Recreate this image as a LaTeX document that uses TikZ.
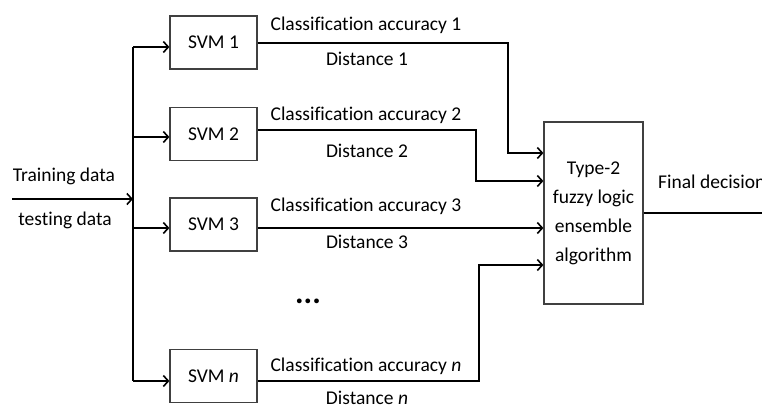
\documentclass[tikz,border=0pt]{standalone}
\usepackage{fontspec}
\setmainfont{Carlito}[Ligatures=NoCommon]
\usetikzlibrary{arrows.meta}

\begin{document}
\begin{tikzpicture}[x=1pt,y=-1pt,
  font=\fontsize{19.5}{29}\selectfont,
  svmbox/.style={draw=black!75,line width=1.2pt,minimum width=87pt,minimum height=53pt,inner sep=0pt},
  wire/.style={line width=2pt,-{Straight Barb[length=5pt,width=11pt,line width=1.6pt]}},
  lbl/.style={inner sep=0pt,anchor=base}]
\useasboundingbox (0,0) rectangle (762,408);
% SVM boxes
\node[svmbox] (svm1) at (213.5,42.5) {SVM 1};
\node[svmbox] (svm2) at (213.5,134) {SVM 2};
\node[svmbox] (svm3) at (213.5,224.5) {SVM 3};
\node[svmbox] (svmn) at (213.5,376) {SVM \textit{n}};
\node[lbl,font=\fontsize{32}{32}\selectfont\bfseries] (dots) at (308,303) {...};
% Ensemble box
\node[svmbox,minimum width=99pt,minimum height=182pt,align=center] (fuzzy) at (593.5,213)
  {Type-2\\fuzzy logic\\ensemble\\algorithm};
% Input and bus
\coordinate (start) at (12,199);
\coordinate (b1) at (133,47);
\coordinate (b2) at (133,137);
\coordinate (b3) at (133,228);
\coordinate (bn) at (133,381);
\draw[wire] (start) -- (start -| b1);
\node[lbl] (train) at (64,181) {Training data};
\node[lbl] (test) at (65,225) {testing data};
\draw[line width=2pt] (b1) -- (bn);
\foreach \i in {1,2,3,n}
  \draw[wire] (b\i) -- (b\i -| svm\i.west);
% Outputs of the SVMs
\draw[wire] (svm1.east |- 0,43) -- (508,43) |- (fuzzy.west |- 0,153);
\draw[wire] (svm2.east |- 0,130) -- (476,130) |- (fuzzy.west |- 0,181);
\draw[wire] (svm3.east |- 0,228) -- (fuzzy.west |- 0,228);
\draw[wire] (svmn.east |- 0,381) -- (479,381) |- (fuzzy.west |- 0,265);
\node[lbl] (acc1) at (366,30) {Classification accuracy 1};
\node[lbl] (dist1) at (367,65) {Distance 1};
\node[lbl] (acc2) at (366,120) {Classification accuracy 2};
\node[lbl] (dist2) at (367,157) {Distance 2};
\node[lbl] (acc3) at (366,211) {Classification accuracy 3};
\node[lbl] (dist3) at (367,248) {Distance 3};
\node[lbl] (accn) at (366,371) {Classification accuracy \textit{n}};
\node[lbl] (distn) at (367,404) {Distance \textit{n}};
% Decision
\coordinate (out) at (762,213);
\draw[line width=2pt] (fuzzy.east |- out) -- (out);
\node[lbl,anchor=base west] (final) at (658,188) {Final decision};
\end{tikzpicture}
\end{document}
